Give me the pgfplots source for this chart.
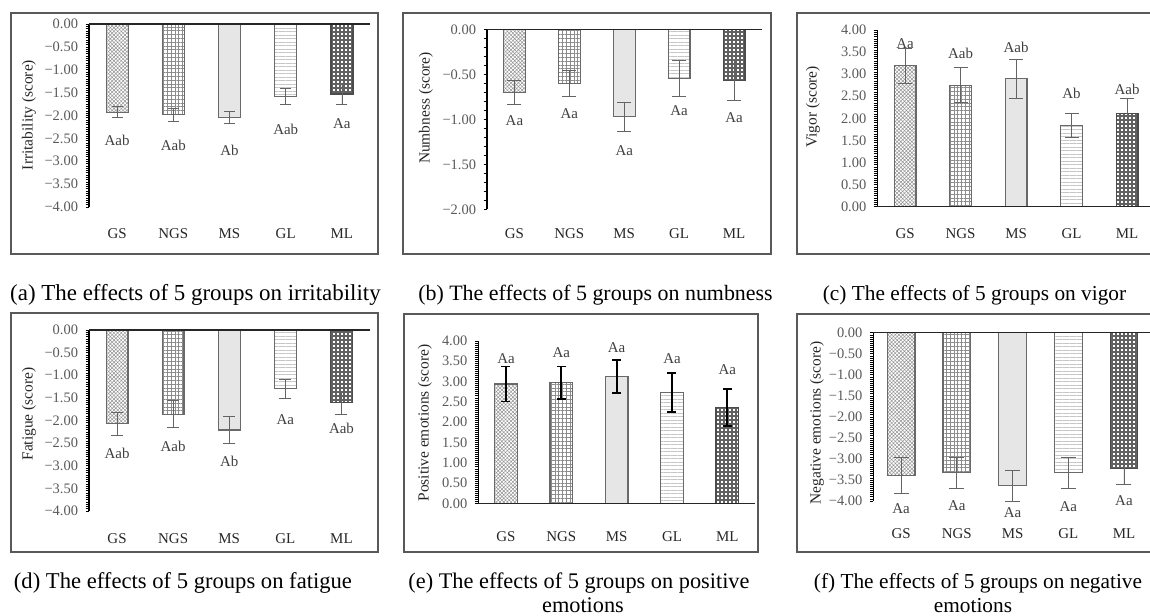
\documentclass[border=0pt]{standalone}
\usepackage{fontspec}
\setmainfont{Liberation Serif}
\usepackage{pgfplots}
\pgfplotsset{compat=1.18}
\usetikzlibrary{patterns.meta}

\definecolor{frame}{RGB}{89,89,89}
\definecolor{tlab}{RGB}{89,89,89}
\definecolor{txt}{RGB}{38,38,38}
\definecolor{lettr}{RGB}{64,64,64}
\definecolor{ebar}{RGB}{100,100,100}
\definecolor{barln}{RGB}{105,105,105}

\newcommand{\fs}[1]{\fontsize{#1}{#1}\selectfont}

\tikzset{
  lab/.style={font=\fs{15}, text=lettr, inner sep=0pt},
  ylab/.style={font=\fs{15.5}, text=txt, rotate=90, inner sep=0pt},
  captxt/.style={font=\fs{#1}, text=black, anchor=base, inner sep=0pt},
  panelbox/.style={draw=frame, line width=1.3bp},
  zl/.style={black!85, line width=1.4bp},
}

\pgfplotsset{
  eb/.style n args={3}{
    error bars/error bar style={line width=#2, #3},
    error bars/error mark options={rotate=90, mark size=#1, line width=#2, #3}},
  pan/.style={
    scale only axis, clip=false,
    xmin=-0.5, xmax=4.5,
    axis y line=left, axis x line*=bottom,
    axis line style={-},
    x axis line style={draw=none},
    y axis line style={black, line width=1.6bp},
    xtick={0,1,2,3,4}, xticklabels={GS,NGS,MS,GL,ML},
    xtick style={draw=none},
    xticklabel style={font=\fs{15}, text=txt, anchor=center},
    tick align=outside,
    major tick length=3.5bp, minor tick length=3.5bp,
    y tick style={black, line width=0.6bp},
    yticklabel style={font=\fs{14.5}, text=tlab, xshift=-4bp},
    minor y tick num=9,
    error bars/y dir=both, error bars/y explicit,
    eb={5.5bp}{0.8bp}{ebar},
  },
  negticks/.style={ymin=-4, ymax=0,
    ytick={-4,-3.5,-3,-2.5,-2,-1.5,-1,-0.5,0},
    yticklabels={−4.00,−3.50,−3.00,−2.50,−2.00,−1.50,−1.00,−0.50,0.00}},
  posticks/.style={ymin=0, ymax=4,
    ytick={0,0.5,1,1.5,2,2.5,3,3.5,4},
    yticklabels={0.00,0.50,1.00,1.50,2.00,2.50,3.00,3.50,4.00}},
  bGS/.style={ybar, bar shift=0pt, draw=barln, line width=1.2bp, fill=white,
    postaction={pattern={Hatch[angle=45,distance=2.6bp,line width=0.5bp]}, pattern color=gray!85}},
  bNGS/.style={ybar, bar shift=0pt, draw=barln, line width=1.2bp, fill=white,
    postaction={pattern={Hatch[angle=0,distance=3.8bp,line width=0.6bp]}, pattern color=gray!90}},
  bMS/.style={ybar, bar shift=0pt, draw=barln, line width=1.2bp, fill=gray!14,
    postaction={pattern={Dots[distance=2bp,radius=0.45bp]}, pattern color=gray!75}},
  bGL/.style={ybar, bar shift=0pt, draw=barln, line width=1.2bp, fill=white,
    postaction={pattern={Lines[angle=0,distance=3.5bp,line width=0.9bp]}, pattern color=gray!45}},
  bML/.style={ybar, bar shift=0pt, draw=black!70, line width=1.2bp, fill=white,
    postaction={pattern={Hatch[angle=0,distance=4bp,line width=1.8bp]}, pattern color=black!62}},
}

\begin{document}
\begin{tikzpicture}
\useasboundingbox (0,0) rectangle (1150bp,-616bp);

% frames round each panel
\draw[panelbox] (11bp,-13bp) rectangle (378bp,-254bp);
\draw[panelbox] (403bp,-13bp) rectangle (771bp,-254bp);
\draw[panelbox] (797bp,-13bp) rectangle (1160bp,-254bp);
\draw[panelbox] (11bp,-313bp) rectangle (378bp,-552bp);
\draw[panelbox] (404bp,-314bp) rectangle (758bp,-552bp);
\draw[panelbox] (797bp,-314bp) rectangle (1160bp,-552bp);

% (a) irritability
\begin{axis}[pan, negticks, at={(89bp,-207bp)}, anchor=south west,
  width=281bp, height=183bp, bar width=22bp,
  xticklabel style={yshift=-23bp}]
\addplot[bGS]  coordinates {(0,-1.93) +- (0,0.12)};
\addplot[bNGS] coordinates {(1,-1.98) +- (0,0.14)};
\addplot[bMS]  coordinates {(2,-2.04) +- (0,0.14)};
\addplot[bGL]  coordinates {(3,-1.58) +- (0,0.17)};
\addplot[bML]  coordinates {(4,-1.53) +- (0,0.22)};
\draw[zl] (axis cs:-0.5,0) -- (axis cs:4.5,0);
\node[lab] at (axis cs:0,-2.55) {Aab};
\node[lab] at (axis cs:1,-2.65) {Aab};
\node[lab] at (axis cs:2,-2.77) {Ab};
\node[lab] at (axis cs:3,-2.30) {Aab};
\node[lab] at (axis cs:4,-2.18) {Aa};
\end{axis}

% (b) numbness
\begin{axis}[pan, at={(487bp,-209.3bp)}, anchor=south west,
  width=274.5bp, height=180bp, bar width=21.7bp,
  ymin=-2, ymax=0, ytick={-2,-1.5,-1,-0.5,0},
  yticklabels={−2.00,−1.50,−1.00,−0.50,0.00},
  minor y tick num=4,
  eb={7bp}{0.8bp}{ebar},
  xticklabel style={yshift=-21bp}]
\addplot[bGS]  coordinates {(0,-0.70) +- (0,0.13)};
\addplot[bNGS] coordinates {(1,-0.60) +- (0,0.14)};
\addplot[bMS]  coordinates {(2,-0.97) +- (0,0.16)};
\addplot[bGL]  coordinates {(3,-0.55) +- (0,0.20)};
\addplot[bML]  coordinates {(4,-0.57) +- (0,0.22)};
\draw[zl] (axis cs:-0.5,0) -- (axis cs:4.5,0);
\node[lab] at (axis cs:0,-1.02) {Aa};
\node[lab] at (axis cs:1,-0.94) {Aa};
\node[lab] at (axis cs:2,-1.35) {Aa};
\node[lab] at (axis cs:3,-0.90) {Aa};
\node[lab] at (axis cs:4,-0.98) {Aa};
\end{axis}

% (c) vigor
\begin{axis}[pan, posticks, at={(877.3bp,-206.7bp)}, anchor=south west,
  width=277.5bp, height=176.7bp, bar width=21.7bp,
  eb={7bp}{0.8bp}{ebar},
  xticklabel style={yshift=-23bp}]
\addplot[bGS]  coordinates {(0,3.19) +- (0,0.40)};
\addplot[bNGS] coordinates {(1,2.75) +- (0,0.40)};
\addplot[bMS]  coordinates {(2,2.90) +- (0,0.44)};
\addplot[bGL]  coordinates {(3,1.84) +- (0,0.27)};
\addplot[bML]  coordinates {(4,2.11) +- (0,0.34)};
\draw[zl] (axis cs:-0.5,0) -- (axis cs:4.5,0);
\node[lab] at (axis cs:0,3.70) {Aa};
\node[lab] at (axis cs:1,3.46) {Aab};
\node[lab] at (axis cs:2,3.61) {Aab};
\node[lab] at (axis cs:3,2.57) {Ab};
\node[lab] at (axis cs:4,2.66) {Aab};
\end{axis}

% (d) fatigue
\begin{axis}[pan, negticks, at={(89bp,-511bp)}, anchor=south west,
  width=280.5bp, height=181bp, bar width=21.7bp,
  eb={6bp}{0.8bp}{ebar},
  xticklabel style={yshift=-24bp}]
\addplot[bGS]  coordinates {(0,-2.07) +- (0,0.25)};
\addplot[bNGS] coordinates {(1,-1.86) +- (0,0.30)};
\addplot[bMS]  coordinates {(2,-2.21) +- (0,0.30)};
\addplot[bGL]  coordinates {(3,-1.30) +- (0,0.21)};
\addplot[bML]  coordinates {(4,-1.61) +- (0,0.25)};
\draw[zl] (axis cs:-0.5,0) -- (axis cs:4.5,0);
\node[lab] at (axis cs:0,-2.73) {Aab};
\node[lab] at (axis cs:1,-2.58) {Aab};
\node[lab] at (axis cs:2,-2.91) {Ab};
\node[lab] at (axis cs:3,-1.97) {Aa};
\node[lab] at (axis cs:4,-2.17) {Aab};
\end{axis}

% (e) positive emotions
\begin{axis}[pan, posticks, at={(478.3bp,-503.3bp)}, anchor=south west,
  width=276.7bp, height=162.3bp, bar width=22.7bp,
  eb={4.5bp}{1.8bp}{black},
  xticklabel style={yshift=-30bp}]
\addplot[bGS]  coordinates {(0,2.94) +- (0,0.43)};
\addplot[bNGS] coordinates {(1,2.97) +- (0,0.40)};
\addplot[bMS]  coordinates {(2,3.12) +- (0,0.41)};
\addplot[bGL]  coordinates {(3,2.74) +- (0,0.48)};
\addplot[bML]  coordinates {(4,2.36) +- (0,0.46)};
\draw[zl] (axis cs:-0.5,0) -- (axis cs:4.5,0);
\node[lab] at (axis cs:0,3.57) {Aa};
\node[lab] at (axis cs:1,3.72) {Aa};
\node[lab] at (axis cs:2,3.84) {Aa};
\node[lab] at (axis cs:3,3.57) {Aa};
\node[lab] at (axis cs:4,3.29) {Aa};
\end{axis}

% (f) negative emotions
\begin{axis}[pan, negticks, at={(873.3bp,-501bp)}, anchor=south west,
  width=278.5bp, height=168.3bp, bar width=27.7bp,
  eb={7.5bp}{0.8bp}{ebar},
  xticklabel style={yshift=-29bp}]
\addplot[bGS]  coordinates {(0,-3.40) +- (0,0.43)};
\addplot[bNGS] coordinates {(1,-3.33) +- (0,0.37)};
\addplot[bMS]  coordinates {(2,-3.64) +- (0,0.36)};
\addplot[bGL]  coordinates {(3,-3.33) +- (0,0.37)};
\addplot[bML]  coordinates {(4,-3.23) +- (0,0.38)};
\draw[zl] (axis cs:-0.5,0) -- (axis cs:4.5,0);
\node[lab] at (axis cs:0,-4.19) {Aa};
\node[lab] at (axis cs:1,-4.12) {Aa};
\node[lab] at (axis cs:2,-4.27) {Aa};
\node[lab] at (axis cs:3,-4.13) {Aa};
\node[lab] at (axis cs:4,-3.99) {Aa};
\end{axis}

% axis titles
\node[ylab] at (29bp,-115bp) {Irritability (score)};
\node[ylab] at (426bp,-108bp) {Numbness (score)};
\node[ylab] at (813bp,-107bp) {Vigor (score)};
\node[ylab] at (29bp,-414bp) {Fatigue (score)};
\node[ylab] at (425bp,-423bp) {Positive emotions (score)};
\node[ylab] at (817bp,-423bp) {Negative emotions (score)};

% captions
\node[captxt=23] at (195.5bp,-300bp) {(a) The effects of 5 groups on irritability};
\node[captxt=22] at (595.5bp,-300bp) {(b) The effects of 5 groups on numbness};
\node[captxt=21.4] at (974.5bp,-300bp) {(c) The effects of 5 groups on vigor};
\node[captxt=22.7] at (183bp,-588bp) {(d) The effects of 5 groups on fatigue};
\node[captxt=22.4] at (579bp,-588bp) {(e) The effects of 5 groups on positive};
\node[captxt=22.4] at (583bp,-612bp) {emotions};
\node[captxt=21.4] at (978bp,-588bp) {(f) The effects of 5 groups on negative};
\node[captxt=21.4] at (973bp,-612bp) {emotions};
\end{tikzpicture}
\end{document}
